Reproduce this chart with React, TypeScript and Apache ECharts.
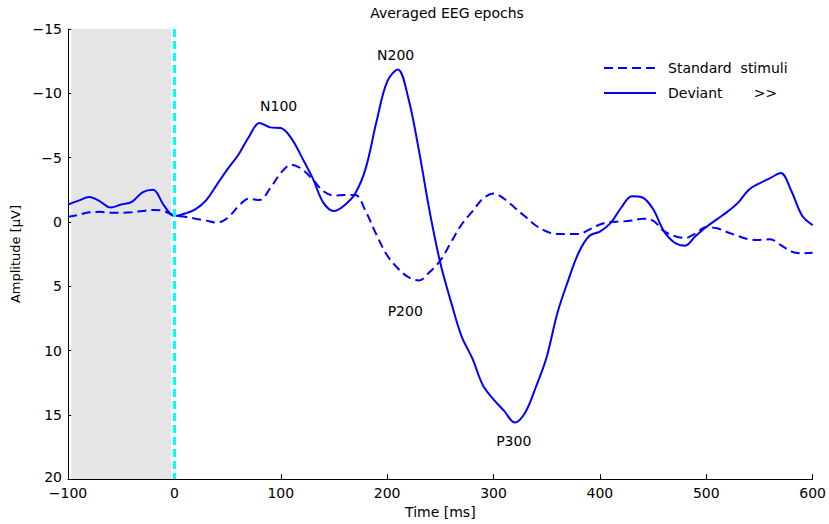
import React, { useEffect, useRef } from "react";
import * as echarts from "echarts";

const times: number[] = [
  -100, -90, -80, -70, -60, -50, -40, -30, -20, -10, 0, 10, 20, 30, 40, 50, 60, 70, 80, 90,
  100, 110, 120, 130, 140, 150, 160, 170, 180, 190, 200, 210, 220, 230, 240, 250, 260, 270, 280, 290,
  300, 310, 320, 330, 340, 350, 360, 370, 380, 390, 400, 410, 420, 430, 440, 450, 460, 470, 480, 490,
  500, 510, 520, 530, 540, 550, 560, 570, 580, 590, 600,
];

const deviant: number[] = [
  -1.35, -1.65, -1.93, -1.6, -1.12, -1.35, -1.55, -2.3, -2.5, -1.3, -0.45, -0.65, -1.0, -1.7, -2.9, -4.1, -5.2, -6.6, -7.7, -7.35,
  -7.3, -6.5, -5.0, -3.4, -1.5, -0.85, -1.3, -2.2, -4.2, -7.8, -10.9, -11.85, -9.6, -5.5, -0.8, 3.2, 6.2, 8.9, 10.6, 12.7,
  13.8, 14.7, 15.6, 14.8, 12.8, 10.5, 7.1, 4.6, 2.4, 1.1, 0.75, 0.1, -1.1, -2.0, -1.9, -1.0, 0.7, 1.6, 1.85, 1.1,
  0.4, -0.2, -0.8, -1.5, -2.5, -3.0, -3.4, -3.8, -2.4, -0.5, 0.25,
];

const standard: number[] = [
  -0.4, -0.55, -0.75, -0.78, -0.72, -0.72, -0.75, -0.85, -0.92, -0.85, -0.5, -0.4, -0.25, -0.1, 0.05, -0.3, -1.2, -1.8, -1.7, -2.6,
  -3.8, -4.45, -4.1, -3.3, -2.4, -2.05, -2.1, -2.1, -0.8, 1.0, 2.6, 3.6, 4.3, 4.55, 3.9, 3.0, 1.6, 0.2, -0.8, -1.8,
  -2.2, -1.8, -1.1, -0.4, 0.3, 0.75, 0.95, 0.95, 0.95, 0.6, 0.2, 0.0, -0.03, -0.1, -0.25, -0.1, 0.7, 1.1, 1.25, 0.9,
  0.4, 0.5, 0.8, 1.1, 1.35, 1.4, 1.35, 1.8, 2.3, 2.45, 2.4,
];

const peakNames: string[] = ["N100", "N200", "P200", "P300"];
const peakTimes: number[] = [98, 208, 217, 319];
const peakLabelValues: number[] = [-9.0, -12.95, 6.95, 17.0];

const baselineStart = -97;
const baselineEnd = -3;
const stimulusTime = 0;
const yMin = -15;
const yMax = 20;

const FONT = "'DejaVu Sans', Verdana, sans-serif";
const fmtMinus = (v: number) => String(v).replace("-", "\u2212");

export default function App() {
  const ref = useRef<HTMLDivElement>(null);
  useEffect(() => {
    if (!ref.current) return;
    const chart = echarts.init(ref.current, undefined, { renderer: "svg" });
    chart.setOption({
      animation: false,
      backgroundColor: "#ffffff",
      title: {
        text: "Averaged EEG epochs",
        left: 442,
        top: 1,
        textAlign: "center",
        textStyle: { fontFamily: FONT, fontSize: 14, fontWeight: "normal", color: "#000" },
      },
      legend: {
        orient: "vertical",
        left: 598,
        top: 56,
        itemWidth: 52,
        itemHeight: 14,
        itemGap: 11,
        itemStyle: { opacity: 0 },
        textStyle: { fontFamily: FONT, fontSize: 14, color: "#000", padding: [0, 0, 0, 7] },
        data: [
          { name: "Standard  stimuli" },
          { name: "Deviant       >>" },
        ],
      },
      grid: { left: 68, right: 12, top: 29, bottom: 35 },
      xAxis: {
        type: "value",
        min: -100,
        max: 600,
        interval: 100,
        name: "Time [ms]",
        nameLocation: "middle",
        nameGap: 18,
        nameTextStyle: { fontFamily: FONT, fontSize: 14, color: "#000" },
        axisLine: { onZero: false, lineStyle: { color: "#000", width: 1 } },
        axisTick: { inside: true, length: 5, lineStyle: { color: "#000" } },
        axisLabel: { fontFamily: FONT, fontSize: 14, lineHeight: 14, color: "#000", margin: 7, formatter: fmtMinus },
        splitLine: { show: false },
      },
      yAxis: {
        type: "value",
        min: yMin,
        max: yMax,
        interval: 5,
        inverse: true,
        name: "Amplitude [\u00b5V]",
        nameLocation: "middle",
        nameGap: 44,
        nameRotate: 90,
        nameTextStyle: { fontFamily: FONT, fontSize: 13, color: "#000" },
        axisLine: { onZero: false, lineStyle: { color: "#000", width: 1 } },
        axisTick: { inside: true, length: 5, lineStyle: { color: "#000" } },
        axisLabel: {
          fontFamily: FONT,
          fontSize: 14,
          lineHeight: 11,
          color: "#000",
          margin: 6,
          formatter: (v: number) => (v === yMax ? "{last|" + fmtMinus(v) + "}" : fmtMinus(v)),
          rich: {
            last: { fontFamily: FONT, fontSize: 14, lineHeight: 11, color: "#000", padding: [0, 0, 4, 0] },
          },
        },
        splitLine: { show: false },
      },
      series: [
        {
          name: "Standard  stimuli",
          type: "line",
          data: times.map((t, i) => [t, standard[i]]),
          smooth: 0.35,
          symbol: "none",
          z: 3,
          lineStyle: { color: "#0000ff", width: 2, type: [9, 5] },
          itemStyle: { color: "#0000ff" },
          markArea: {
            silent: true,
            itemStyle: { color: "#e5e5e5" },
            data: [[{ xAxis: baselineStart }, { xAxis: baselineEnd }]],
          },
        },
        {
          name: "Deviant       >>",
          type: "line",
          data: times.map((t, i) => [t, deviant[i]]),
          smooth: 0.35,
          symbol: "none",
          z: 4,
          lineStyle: { color: "#0000ff", width: 2, type: "solid" },
          itemStyle: { color: "#0000ff" },
          markLine: {
            silent: true,
            symbol: "none",
            label: { show: false },
            lineStyle: { color: "#00ffff", width: 3, type: [8, 4] },
            data: [{ xAxis: stimulusTime }],
          },
          markPoint: {
            silent: true,
            symbol: "circle",
            symbolSize: 0,
            label: {
              show: true,
              position: "inside",
              formatter: "{b}",
              fontFamily: FONT,
              fontSize: 14,
              color: "#000",
            },
            data: peakNames.map((n, i) => ({ name: n, coord: [peakTimes[i], peakLabelValues[i]] })),
          },
        },
      ],
    });
    return () => chart.dispose();
  }, []);
  return <div ref={ref} style={{ width: 829, height: 524, position: "absolute", left: 0, top: 0 }} />;
}
